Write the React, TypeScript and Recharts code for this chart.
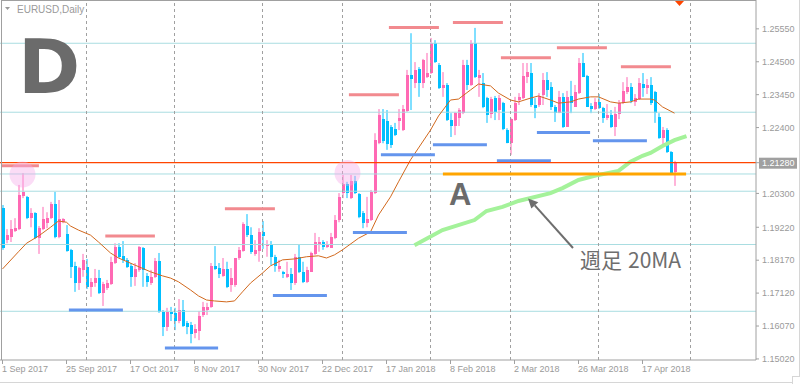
import React from 'react';
import { ComposedChart, Bar, Line, XAxis, YAxis, ReferenceLine, ReferenceDot } from 'recharts';

// ---- daily candles, 1 Sep 2017 .. 27 Apr 2018 (bar index 0..168)
const opens = [
  1.1983, 1.1881, 1.1891, 1.1910, 1.1916, 1.2022, 1.2019, 1.1951, 1.1967, 1.1887,
  1.1916, 1.1935, 1.1951, 1.1996, 1.1891, 1.1938, 1.1900, 1.1850, 1.1799, 1.1744,
  1.1786, 1.1796, 1.1732, 1.1744, 1.1760, 1.1712, 1.1728, 1.1741, 1.1808, 1.1859,
  1.1831, 1.1818, 1.1799, 1.1764, 1.1786, 1.1856, 1.1767, 1.1744, 1.1764, 1.1815,
  1.1652, 1.1604, 1.1652, 1.1649, 1.1623, 1.1658, 1.1616, 1.1610, 1.1584, 1.1591,
  1.1642, 1.1658, 1.1668, 1.1799, 1.1792, 1.1767, 1.1789, 1.1738, 1.1738, 1.1824,
  1.1847, 1.1926, 1.1897, 1.1837, 1.1847, 1.1907, 1.1862, 1.1868, 1.1828, 1.1789,
  1.1780, 1.1764, 1.1773, 1.1744, 1.1828, 1.1780, 1.1748, 1.1780, 1.1837, 1.1868,
  1.1875, 1.1859, 1.1856, 1.1887, 1.1945, 1.2031, 1.2060, 1.2015, 1.2070, 1.2028,
  1.1967, 1.1935, 1.1945, 1.2031, 1.2190, 1.2267, 1.2261, 1.2242, 1.2236, 1.2261,
  1.2232, 1.2293, 1.2408, 1.2382, 1.2427, 1.2382, 1.2401, 1.2414, 1.2510, 1.2440,
  1.2366, 1.2376, 1.2264, 1.2245, 1.2270, 1.2286, 1.2440, 1.2376, 1.2510, 1.2398,
  1.2382, 1.2334, 1.2283, 1.2334, 1.2296, 1.2318, 1.2232, 1.2190, 1.2264, 1.2328,
  1.2334, 1.2401, 1.2414, 1.2312, 1.2312, 1.2344, 1.2392, 1.2370, 1.2306, 1.2286,
  1.2338, 1.2242, 1.2341, 1.2306, 1.2350, 1.2446, 1.2405, 1.2309, 1.2299, 1.2322,
  1.2302, 1.2270, 1.2280, 1.2242, 1.2283, 1.2318, 1.2354, 1.2370, 1.2322, 1.2331,
  1.2379, 1.2366, 1.2376, 1.2354, 1.2273, 1.2207, 1.2232, 1.2162, 1.2098,
];
const highs = [
  1.1993, 1.1916, 1.1945, 1.1951, 1.2057, 1.2095, 1.2022, 1.1983, 1.1970, 1.1926,
  1.1987, 1.1970, 1.2003, 1.2035, 1.2009, 1.1951, 1.1929, 1.1853, 1.1812, 1.1796,
  1.1837, 1.1821, 1.1760, 1.1789, 1.1786, 1.1748, 1.1754, 1.1828, 1.1871, 1.1871,
  1.1878, 1.1824, 1.1808, 1.1808, 1.1862, 1.1859, 1.1776, 1.1786, 1.1824, 1.1840,
  1.1658, 1.1665, 1.1668, 1.1665, 1.1693, 1.1690, 1.1623, 1.1620, 1.1613, 1.1655,
  1.1684, 1.1681, 1.1808, 1.1862, 1.1808, 1.1824, 1.1812, 1.1792, 1.1824, 1.1859,
  1.1938, 1.1964, 1.1922, 1.1881, 1.1919, 1.1942, 1.1881, 1.1878, 1.1834, 1.1818,
  1.1783, 1.1812, 1.1792, 1.1837, 1.1866, 1.1812, 1.1796, 1.1844, 1.1904, 1.1891,
  1.1881, 1.1878, 1.1904, 1.1961, 1.2031, 1.2089, 1.2067, 1.2089, 1.2086, 1.2031,
  1.1974, 1.2019, 1.2041, 1.2222, 1.2299, 1.2299, 1.2296, 1.2248, 1.2255, 1.2299,
  1.2312, 1.2424, 1.2541, 1.2449, 1.2433, 1.2459, 1.2478, 1.2526, 1.2519, 1.2446,
  1.2417, 1.2382, 1.2286, 1.2290, 1.2302, 1.2456, 1.2456, 1.2519, 1.2558, 1.2424,
  1.2414, 1.2338, 1.2338, 1.2341, 1.2344, 1.2322, 1.2238, 1.2270, 1.2338, 1.2350,
  1.2446, 1.2446, 1.2446, 1.2334, 1.2350, 1.2414, 1.2417, 1.2385, 1.2312, 1.2357,
  1.2350, 1.2357, 1.2389, 1.2376, 1.2462, 1.2478, 1.2408, 1.2318, 1.2334, 1.2347,
  1.2306, 1.2315, 1.2296, 1.2306, 1.2328, 1.2385, 1.2401, 1.2382, 1.2347, 1.2398,
  1.2414, 1.2395, 1.2401, 1.2357, 1.2286, 1.2242, 1.2238, 1.2165, 1.2134,
];
const lows = [
  1.1850, 1.1871, 1.1875, 1.1907, 1.1913, 1.2015, 1.1948, 1.1922, 1.1884, 1.1837,
  1.1913, 1.1919, 1.1948, 1.1887, 1.1887, 1.1935, 1.1844, 1.1760, 1.1716, 1.1722,
  1.1764, 1.1725, 1.1700, 1.1732, 1.1709, 1.1671, 1.1722, 1.1738, 1.1805, 1.1824,
  1.1808, 1.1792, 1.1732, 1.1735, 1.1780, 1.1732, 1.1732, 1.1738, 1.1760, 1.1649,
  1.1575, 1.1591, 1.1623, 1.1594, 1.1616, 1.1604, 1.1581, 1.1552, 1.1568, 1.1562,
  1.1636, 1.1642, 1.1665, 1.1786, 1.1760, 1.1764, 1.1728, 1.1716, 1.1732, 1.1818,
  1.1844, 1.1891, 1.1837, 1.1831, 1.1812, 1.1853, 1.1828, 1.1802, 1.1780, 1.1780,
  1.1760, 1.1760, 1.1722, 1.1738, 1.1776, 1.1744, 1.1744, 1.1780, 1.1834, 1.1844,
  1.1850, 1.1856, 1.1856, 1.1884, 1.1938, 1.2015, 1.2015, 1.2012, 1.2028, 1.1951,
  1.1919, 1.1922, 1.1942, 1.2028, 1.2187, 1.2190, 1.2169, 1.2175, 1.2213, 1.2232,
  1.2229, 1.2290, 1.2296, 1.2366, 1.2338, 1.2366, 1.2398, 1.2411, 1.2446, 1.2363,
  1.2338, 1.2261, 1.2210, 1.2216, 1.2245, 1.2283, 1.2360, 1.2373, 1.2398, 1.2338,
  1.2302, 1.2255, 1.2270, 1.2264, 1.2264, 1.2232, 1.2190, 1.2153, 1.2261, 1.2312,
  1.2331, 1.2382, 1.2306, 1.2270, 1.2306, 1.2312, 1.2338, 1.2296, 1.2258, 1.2286,
  1.2239, 1.2242, 1.2286, 1.2306, 1.2347, 1.2401, 1.2306, 1.2286, 1.2296, 1.2299,
  1.2255, 1.2264, 1.2239, 1.2213, 1.2267, 1.2315, 1.2347, 1.2318, 1.2309, 1.2328,
  1.2338, 1.2347, 1.2312, 1.2255, 1.2204, 1.2187, 1.2159, 1.2095, 1.2054,
];
const closes = [
  1.1856, 1.1897, 1.1916, 1.1919, 1.2025, 1.2035, 1.1951, 1.1967, 1.1887, 1.1919,
  1.1948, 1.1951, 1.1996, 1.1891, 1.1948, 1.1948, 1.1847, 1.1796, 1.1744, 1.1792,
  1.1818, 1.1732, 1.1748, 1.1760, 1.1712, 1.1741, 1.1744, 1.1812, 1.1859, 1.1828,
  1.1818, 1.1796, 1.1764, 1.1789, 1.1859, 1.1786, 1.1748, 1.1764, 1.1815, 1.1652,
  1.1604, 1.1652, 1.1645, 1.1623, 1.1658, 1.1607, 1.1604, 1.1581, 1.1597, 1.1639,
  1.1668, 1.1668, 1.1799, 1.1789, 1.1773, 1.1789, 1.1732, 1.1760, 1.1824, 1.1850,
  1.1932, 1.1897, 1.1844, 1.1850, 1.1907, 1.1894, 1.1868, 1.1828, 1.1799, 1.1799,
  1.1773, 1.1773, 1.1744, 1.1828, 1.1780, 1.1748, 1.1786, 1.1840, 1.1875, 1.1875,
  1.1859, 1.1868, 1.1891, 1.1945, 1.2019, 1.2060, 1.2031, 1.2070, 1.2031, 1.1955,
  1.1935, 1.1948, 1.2035, 1.2200, 1.2280, 1.2197, 1.2187, 1.2184, 1.2216, 1.2270,
  1.2299, 1.2408, 1.2395, 1.2424, 1.2382, 1.2456, 1.2414, 1.2510, 1.2449, 1.2366,
  1.2376, 1.2264, 1.2245, 1.2286, 1.2296, 1.2440, 1.2376, 1.2510, 1.2401, 1.2408,
  1.2306, 1.2280, 1.2331, 1.2290, 1.2334, 1.2236, 1.2190, 1.2267, 1.2318, 1.2338,
  1.2404, 1.2417, 1.2312, 1.2302, 1.2341, 1.2392, 1.2360, 1.2306, 1.2286, 1.2338,
  1.2242, 1.2338, 1.2318, 1.2354, 1.2446, 1.2401, 1.2306, 1.2299, 1.2322, 1.2302,
  1.2270, 1.2280, 1.2242, 1.2283, 1.2318, 1.2357, 1.2370, 1.2325, 1.2334, 1.2382,
  1.2366, 1.2376, 1.2318, 1.2286, 1.2207, 1.2232, 1.2162, 1.2095, 1.2128,
];

// daily moving average (at these bars)
const maIndex = [0, 4, 6, 9, 12, 14, 16, 17, 19, 22, 24, 27, 29, 33, 37, 40, 42, 44, 47, 49, 51, 53, 56, 58, 60, 62, 65, 67, 70, 73, 76, 79, 81, 83, 85, 89, 92, 94, 97, 99, 102, 104, 107, 109, 112, 114, 117, 119, 122, 124, 127, 129, 132, 134, 137, 139, 142, 144, 147, 149, 152, 154, 157, 159, 162, 163, 165, 168];
const maValues = [1.1789, 1.1844, 1.1871, 1.1894, 1.1922, 1.1942, 1.1938, 1.1926, 1.1913, 1.1897, 1.1875, 1.1840, 1.1824, 1.1802, 1.1780, 1.1767, 1.1760, 1.1748, 1.1722, 1.1703, 1.1690, 1.1687, 1.1684, 1.1687, 1.1716, 1.1744, 1.1776, 1.1799, 1.1818, 1.1821, 1.1828, 1.1831, 1.1824, 1.1834, 1.1850, 1.1887, 1.1907, 1.1961, 1.2019, 1.2067, 1.2137, 1.2175, 1.2232, 1.2277, 1.2328, 1.2331, 1.2360, 1.2379, 1.2373, 1.2350, 1.2328, 1.2322, 1.2334, 1.2341, 1.2328, 1.2318, 1.2322, 1.2331, 1.2338, 1.2338, 1.2322, 1.2318, 1.2322, 1.2331, 1.2331, 1.2328, 1.2306, 1.2286];

// weekly 20MA (green)
const wmaIndex = [103, 110, 118, 121, 125, 129, 137, 140, 144, 149, 154, 157, 160, 162, 165, 168, 171];
const wmaValues = [1.1865, 1.1913, 1.1945, 1.1974, 1.1987, 1.2006, 1.2031, 1.2047, 1.2073, 1.2089, 1.2102, 1.2131, 1.2150, 1.2159, 1.2181, 1.2200, 1.2213];

const xTickIndex = [0, 16, 32, 48, 64, 80, 96, 112, 128, 144, 160];
const xTickLabels = ['1 Sep 2017', '25 Sep 2017', '17 Oct 2017', '8 Nov 2017', '30 Nov 2017', '22 Dec 2017', '17 Jan 2018', '8 Feb 2018', '2 Mar 2018', '26 Mar 2018', '17 Apr 2018'];
const yTicks = [1.2555, 1.245, 1.2345, 1.224, 1.2128, 1.203, 1.1922, 1.1817, 1.1712, 1.1607, 1.1502];
const currentPrice = 1.2128;
const monthStarts = [21, 43, 65, 85, 107, 127, 149, 172];
const levelLines = [1.2509, 1.2289, 1.2092, 1.2037, 1.1867, 1.1654];

const resistanceFrom = [-0.2, 25.7, 55.6, 86.6, 96.6, 112.6, 124.6, 138.6, 154.6];
const resistanceTo = [9.1, 38.1, 68.1, 99.1, 109.1, 125.1, 137.1, 151.1, 167.1];
const resistancePrice = [1.2118, 1.1894, 1.1981, 1.2345, 1.2559, 1.2575, 1.2463, 1.2495, 1.2434];
const supportFrom = [16.6, 40.6, 67.6, 87.6, 94.6, 107.6, 123.6, 133.6, 147.6];
const supportTo = [30.1, 53.9, 81.1, 101.1, 108.1, 121.1, 137.1, 146.9, 161.1];
const supportPrice = [1.1658, 1.1537, 1.1704, 1.1905, 1.2153, 1.2185, 1.2134, 1.2224, 1.2198];
const lineAFrom = 110.1;
const lineATo = 170.9;
const lineAPrice = 1.2092;
const circleIndex = [5, 86.25];
const circlePrice = [1.2090, 1.2095];

const BULL = '#ff69b4';
const BEAR = '#00bfff';
const GREY = '#9a9a9a';
const AXIS_FONT = '"Liberation Sans", Arial, sans-serif';

const N = 189;
const data = Array.from({ length: N }, (_, i) => {
  const has = i < opens.length;
  const mi = maIndex.indexOf(i);
  const wi = wmaIndex.indexOf(i);
  return {
    i,
    range: has ? [lows[i], highs[i]] : null,
    o: has ? opens[i] : null,
    h: has ? highs[i] : null,
    l: has ? lows[i] : null,
    c: has ? closes[i] : null,
    ma: mi >= 0 ? maValues[mi] : null,
    wma: wi >= 0 ? wmaValues[wi] : null,
  };
});

const Candle = (props: any) => {
  const { x, y, width, height, payload } = props;
  if (!payload || payload.h == null || x == null || y == null) return null;
  const { o, h, l, c } = payload;
  const up = c >= o;
  const color = up ? BULL : BEAR;
  const span = h - l || 1e-9;
  const py = (v: number) => y + ((h - v) / span) * height;
  const top = py(Math.max(o, c));
  const bot = py(Math.min(o, c));
  const cx = x + width / 2;
  return (
    <g>
      <line x1={cx} x2={cx} y1={y} y2={y + height} stroke={color} strokeWidth={1} />
      <rect x={x} y={top} width={width} height={Math.max(1, bot - top)} fill={color} shapeRendering="crispEdges" />
    </g>
  );
};

const XTick = (props: any) => {
  const { x, y, payload } = props;
  const k = xTickIndex.indexOf(payload.value);
  return (
    <text x={x - 0.5} y={y} dy="0.71em" textAnchor="start" fill={GREY} fontSize={9} fontFamily={AXIS_FONT}>
      {k >= 0 ? xTickLabels[k] : ''}
    </text>
  );
};

const YTick = (props: any) => {
  const { x, y, payload } = props;
  const v = payload.value as number;
  if (Math.abs(v - currentPrice) < 1e-7) {
    return (
      <g>
        <rect x={x - 2} y={y - 5} width={38} height={11} fill="#a0a0a0" />
        <text x={x + 1} y={y} dy="0.36em" fill="#ffffff" fontSize={9} fontFamily={AXIS_FONT}>{v.toFixed(5)}</text>
      </g>
    );
  }
  return (
    <text x={x + 1} y={y} dy="0.36em" fill={GREY} fontSize={9} fontFamily={AXIS_FONT}>{v.toFixed(5)}</text>
  );
};

export default function App() {
  return (
    <div style={{ position: 'absolute', left: 0, top: 0, width: 801, height: 384, background: '#fff' }}>
      <ComposedChart width={801} height={384} data={data} margin={{ top: 0, right: 0, bottom: 0, left: 0 }}>
        <XAxis
          type="number"
          dataKey="i"
          domain={[-0.625, 188.375]}
          allowDataOverflow
          ticks={xTickIndex}
          interval={0}
          height={24}
          tickSize={4}
          tickMargin={2}
          axisLine={{ stroke: '#a0a0a0' }}
          tickLine={{ stroke: '#a0a0a0' }}
          tick={XTick}
        />
        <YAxis
          orientation="right"
          type="number"
          domain={[1.14986, 1.2647]}
          allowDataOverflow
          ticks={yTicks}
          interval={0}
          width={45}
          tickSize={3}
          tickMargin={2}
          axisLine={{ stroke: '#a0a0a0' }}
          tickLine={{ stroke: '#a0a0a0' }}
          tick={YTick}
        />
        {levelLines.map((p, k) => (
          <ReferenceLine key={'lv' + k} y={p} stroke="#a9dde1" strokeWidth={1} />
        ))}
        {monthStarts.map((m, k) => (
          <ReferenceLine key={'ms' + k} x={m} stroke="#a0a0a0" strokeDasharray="3 3" strokeWidth={1} />
        ))}
        {circleIndex.map((ci, k) => (
          <ReferenceDot key={'cd' + k} x={ci} y={circlePrice[k]} r={13} fill="#f5a8e8" fillOpacity={0.4} stroke="none" />
        ))}
        <Line dataKey="wma" stroke="#a4f29a" strokeWidth={4} dot={false} activeDot={false} connectNulls isAnimationActive={false} />
        <Bar dataKey="range" barSize={3} shape={Candle} isAnimationActive={false} />
        <Line dataKey="ma" stroke="#d2691e" strokeWidth={1} dot={false} activeDot={false} connectNulls isAnimationActive={false} />
        {resistancePrice.map((p, k) => (
          <ReferenceLine key={'rs' + k} segment={[{ x: resistanceFrom[k], y: p }, { x: resistanceTo[k], y: p }]} stroke="#f28a8f" strokeWidth={3} />
        ))}
        {supportPrice.map((p, k) => (
          <ReferenceLine key={'sp' + k} segment={[{ x: supportFrom[k], y: p }, { x: supportTo[k], y: p }]} stroke="#6495ed" strokeWidth={3} />
        ))}
        <ReferenceLine segment={[{ x: lineAFrom, y: lineAPrice }, { x: lineATo, y: lineAPrice }]} stroke="#ffa500" strokeWidth={3} />
        <ReferenceLine y={currentPrice} stroke="#ff4500" strokeWidth={1.2} />
      </ComposedChart>
      <svg width={801} height={384} style={{ position: 'absolute', left: 0, top: 0, pointerEvents: 'none' }}>
        <line x1={1.5} y1={0} x2={1.5} y2={360} stroke="#a0a0a0" />
        <line x1={1} y1={0.5} x2={756} y2={0.5} stroke="#a0a0a0" />
        <line x1={799.5} y1={0} x2={799.5} y2={376} stroke="#d6d6d6" />
        <line x1={793} y1={376.5} x2={800} y2={376.5} stroke="#d6d6d6" />
        <line x1={792.5} y1={376} x2={792.5} y2={384} stroke="#d6d6d6" />
        <line x1={0} y1={382.5} x2={793} y2={382.5} stroke="#d6d6d6" />
        <polygon points="675,1 684,1 679.5,6" fill="#ff4500" />
        <polygon points="5,7 10,7 7.5,10" fill={GREY} />
        <text x={17} y={12.5} fill={GREY} fontSize={10} fontFamily={AXIS_FONT}>EURUSD,Daily</text>
        <text x={18} y={92.5} fill="#6b6b6b" fontSize={75} fontWeight="bold" fontFamily='"DejaVu Sans", sans-serif'>D</text>
        <text x={449} y={205} fill="#6b6b6b" fontSize={31} fontWeight="bold" fontFamily='"Liberation Sans", Arial, sans-serif'>A</text>
        <line x1={573} y1={248} x2={534.8} y2={205.4} stroke="#6e6e6e" strokeWidth={2} />
        <polygon points="528,198.5 538.3,202.2 531.3,208.6" fill="#6e6e6e" />
        <text y={268} fill="#6e6e6e" fontSize={21} fontFamily='"Noto Sans CJK JP", sans-serif'>
          <tspan x={580}>週足</tspan>
          <tspan x={628}>20MA</tspan>
        </text>
      </svg>
    </div>
  );
}
